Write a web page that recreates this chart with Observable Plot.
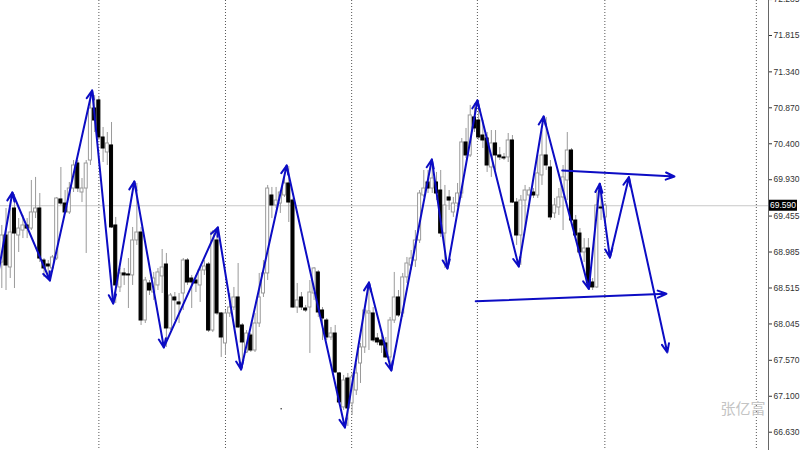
<!DOCTYPE html>
<html><head><meta charset="utf-8">
<script src="https://cdn.jsdelivr.net/npm/d3@7"></script>
<script src="https://cdn.jsdelivr.net/npm/@observablehq/plot@0.6"></script>
<style>body{margin:0;background:#fff} svg{display:block}</style>
</head><body><div id="chart"></div>
<script>
// OHLC candles (bar index = position)
const open = [68.848,69.201,68.783,69.554,69.201,69.266,69.332,69.292,69.502,69.554,
68.874,68.822,68.770,68.900,69.672,69.619,69.502,69.815,70.142,69.763,
69.815,70.181,70.861,70.966,70.482,70.286,70.378,69.332,68.522,68.705,
68.692,68.679,69.136,69.240,68.090,68.574,68.456,68.548,68.666,68.822,
67.986,68.391,68.326,68.443,68.874,68.639,68.613,68.548,68.744,68.822,
67.959,69.136,68.182,67.790,68.182,68.260,68.391,68.025,67.672,67.894,
67.698,68.051,68.443,68.705,69.724,69.593,69.619,69.724,69.881,69.658,
68.260,68.391,68.247,68.260,68.443,68.718,68.221,68.090,67.868,67.920,
67.398,66.954,67.332,67.006,67.175,67.528,67.738,68.182,68.182,67.855,
67.829,67.790,67.607,68.090,68.391,68.182,68.653,68.809,68.874,69.136,
69.724,69.894,69.815,69.894,69.789,69.227,69.698,69.502,69.619,69.750,
70.417,70.247,70.744,70.704,70.508,70.469,70.090,70.404,70.247,70.221,
70.221,70.443,69.632,69.201,69.658,69.724,69.763,69.724,69.986,70.247,
70.090,69.489,69.567,69.698,69.920,70.312,69.397,69.227,68.979,69.031,
68.587,68.522,69.567,69.437];
const high = [69.332,69.554,69.554,69.737,69.423,69.463,69.423,69.920,69.960,69.750,
68.900,68.874,68.940,69.698,70.090,69.789,69.894,70.181,70.181,69.946,
70.181,71.070,71.031,71.005,70.613,70.547,70.678,69.437,68.770,68.770,
68.900,69.306,69.881,69.306,68.653,68.613,68.718,68.770,69.018,68.966,
68.443,68.456,68.443,68.900,68.900,68.679,68.679,68.783,68.874,68.848,
69.266,69.306,68.195,68.221,68.443,68.522,68.835,68.051,67.959,67.920,
68.182,68.705,68.874,69.855,69.829,69.829,69.789,70.012,70.103,69.685,
68.574,68.456,68.287,68.613,68.783,68.744,68.260,68.116,67.999,68.025,
67.411,67.372,67.398,67.398,67.528,67.790,68.260,68.574,68.260,67.920,
67.894,67.868,68.130,68.718,68.482,68.705,68.914,69.005,69.266,69.789,
70.051,70.051,70.181,70.025,70.051,69.855,69.789,69.698,69.881,70.469,
70.600,70.901,70.927,70.966,70.704,70.547,70.573,70.573,70.352,70.273,
70.534,70.508,69.685,69.724,69.855,69.829,69.815,70.247,70.573,70.744,
70.181,69.685,69.815,70.116,70.547,70.338,69.463,69.292,69.161,69.161,
68.639,69.789,69.842,69.619];
const low = [68.508,68.482,68.639,68.508,68.979,69.161,69.161,69.266,69.423,68.848,
68.653,68.626,68.718,68.874,69.593,69.476,69.476,69.763,69.763,69.632,
68.966,70.116,70.547,70.443,70.155,70.116,69.292,68.312,68.456,68.548,
68.247,68.548,69.071,68.025,68.051,68.417,68.352,68.482,68.443,67.738,
67.959,68.090,68.051,68.221,68.548,68.247,68.456,68.326,68.679,67.933,
67.933,68.156,67.607,67.633,68.130,68.221,67.986,67.462,67.659,67.672,
67.672,67.999,68.391,68.613,69.423,69.554,69.489,69.698,69.371,68.247,
68.182,68.221,68.195,67.659,68.352,68.130,67.829,67.829,67.829,67.398,
66.980,66.914,66.705,66.849,67.110,67.267,67.659,67.698,67.803,67.764,
67.659,67.593,67.449,68.051,68.130,68.130,68.574,68.744,68.783,69.097,
69.698,69.750,69.750,69.658,69.175,68.770,69.528,69.437,69.567,69.685,
70.207,70.221,70.547,70.443,70.338,70.025,69.960,70.051,70.181,70.181,
70.155,69.619,69.071,68.809,69.266,69.593,69.685,69.685,69.855,70.051,
69.397,69.423,69.463,69.266,69.658,69.371,69.175,68.940,68.848,68.508,
68.482,68.508,69.397,69.371];
const close = [69.201,68.809,69.240,69.227,69.292,69.332,69.292,69.502,69.554,68.900,
68.770,68.796,68.914,69.685,69.619,69.502,69.815,70.116,69.815,69.815,
70.142,70.861,70.704,70.482,70.338,70.404,69.306,68.548,68.705,68.679,
68.679,69.136,69.240,68.090,68.613,68.482,68.639,68.718,68.783,67.986,
68.417,68.352,68.300,68.874,68.587,68.587,68.574,68.744,68.796,67.959,
69.240,68.182,67.868,68.182,68.260,68.391,67.999,67.803,67.920,67.698,
68.051,68.391,68.705,69.815,69.593,69.658,69.763,69.881,69.632,68.260,
68.352,68.260,68.221,68.456,68.770,68.195,68.116,67.868,67.920,67.411,
67.019,67.306,66.940,67.346,67.398,67.738,68.221,68.208,67.829,67.803,
67.764,67.607,68.090,68.391,68.156,68.653,68.835,68.900,69.136,69.750,
69.815,69.815,69.946,69.750,69.227,69.593,69.658,69.619,69.750,70.417,
70.247,70.770,70.600,70.482,70.443,70.116,70.404,70.247,70.221,70.208,
70.443,69.632,69.201,69.658,69.789,69.789,69.724,70.012,70.247,70.116,
69.437,69.593,69.698,69.960,70.312,69.397,69.201,68.979,69.031,68.574,
68.522,69.593,69.554,69.590];

// ZigZag pivots (bar index, price), incl. projected legs
const zzIndex = [-2,2.5,11.4,21.4,26.4,31.4,38.4,51.2,56.7,67.5,81.3,87.0,92.3,101.9,105.6,112.7,122.5,128.4,139.1,141.7,144.1,148.6,157.7];
const zzPrice = [68.339,69.763,68.613,71.096,68.313,69.907,67.738,69.306,67.450,70.116,66.692,68.587,67.437,70.195,68.770,70.966,68.796,70.756,68.504,69.877,68.913,69.963,67.672];
// Channel lines
const upperIndex = [132.8,159.4], upperPrice = [70.051,69.972];
const lowerIndex = [112.3,157.5], lowerPrice = [68.342,68.439];
// Period separators (bar index)
const separators = [23,53,82.9,112.7,142.9,178.8];
// Price axis ticks
const priceTicks = [72.285,71.815,71.340,70.870,70.400,69.930,69.455,68.985,68.515,68.045,67.570,67.100,66.630];
const bid = 69.590;
const strayIndex = [66.2], strayPrice = [66.937];
const watermark = "张亿富";

const xDomain = [-0.31, 181.68];
const yDomain = [66.391, 72.2725];

const candles = open.map((o, i) => ({i, open: o, high: high[i], low: low[i], close: close[i]}));
const up = candles.filter(d => d.close >= d.open);
const down = candles.filter(d => d.close < d.open);
const segs = zzIndex.slice(1).map((x, k) => ({x1: zzIndex[k], y1: zzPrice[k], x2: x, y2: zzPrice[k + 1]}));
const chan = [
  {x1: upperIndex[0], y1: upperPrice[0], x2: upperIndex[1], y2: upperPrice[1]},
  {x1: lowerIndex[0], y1: lowerPrice[0], x2: lowerIndex[1], y2: lowerPrice[1]}
];
const blue = "#0c0cc4";
const hw = 0.36;

const plot = Plot.plot({
  width: 800, height: 450,
  marginLeft: 0, marginRight: 32, marginTop: 0, marginBottom: 0,
  style: {fontFamily: "'Liberation Sans', Arial, sans-serif", fontSize: "8.5px", background: "white"},
  x: {domain: xDomain, axis: null},
  y: {domain: yDomain, axis: null},
  marks: [
    Plot.ruleY([bid], {stroke: "#c8c8c8", strokeWidth: 1}),
    Plot.ruleX(separators, {stroke: "#555", strokeDasharray: "1,2", strokeWidth: 1}),
    Plot.ruleX(candles, {x: "i", y1: "low", y2: "high", stroke: "#9a9a9a", strokeWidth: 1}),
    Plot.rect(up, {x1: d => d.i - hw, x2: d => d.i + hw, y1: "open", y2: "close", fill: "white", stroke: "#9a9a9a", strokeWidth: 1}),
    Plot.rect(down, {x1: d => d.i - hw, x2: d => d.i + hw, y1: "open", y2: "close", fill: "black", stroke: "black", strokeWidth: 1}),
    Plot.dot(strayIndex, {x: d => d, y: (d, k) => strayPrice[k], r: 0.8, fill: "#333", stroke: null}),
    Plot.arrow(segs, {x1: "x1", y1: "y1", x2: "x2", y2: "y2", stroke: blue, strokeWidth: 2, headLength: 7, headAngle: 45, clip: true}),
    Plot.arrow(chan, {x1: "x1", y1: "y1", x2: "x2", y2: "y2", stroke: blue, strokeWidth: 2, headLength: 7, headAngle: 45}),
    Plot.text([watermark], {frameAnchor: "bottom-right", dx: -3, dy: -41, lineAnchor: "middle", textAnchor: "end", fill: "#c4c4c4", fontSize: 15, fontFamily: "'Noto Sans CJK SC', sans-serif"}),
    Plot.ruleX([xDomain[1]], {stroke: "#666", strokeWidth: 1}),
    Plot.axisY(priceTicks, {anchor: "right", tickSize: 3, tickPadding: 2, tickFormat: d => d.toFixed(3), fontSize: 8.5, color: "#333"})
  ]
});
document.getElementById("chart").appendChild(plot);

// current price label on the price scale
const ys = plot.scale("y").apply(bid);
const xs = plot.scale("x").apply(xDomain[1]);
const svg = d3.select(plot);
svg.append("rect").attr("x", xs + 1).attr("y", ys - 5.5).attr("width", 28).attr("height", 11).attr("fill", "black");
svg.append("text").attr("x", xs + 15).attr("y", ys).attr("dy", "0.35em").attr("text-anchor", "middle")
  .attr("fill", "white").attr("font-size", 8.5).attr("font-family", "'Liberation Sans', Arial, sans-serif").text(bid.toFixed(3));
</script></body></html>
